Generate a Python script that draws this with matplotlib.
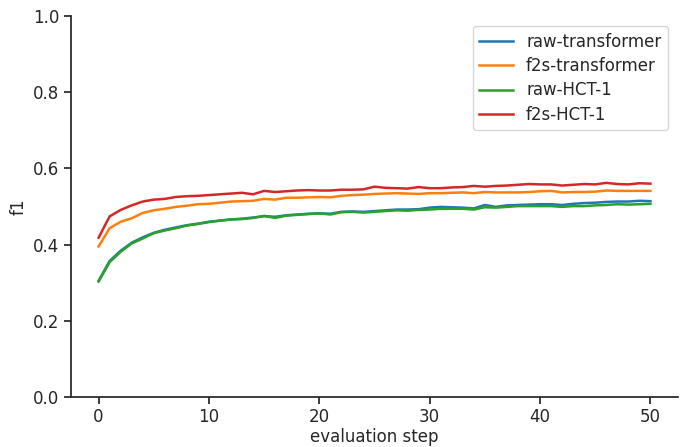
import numpy as np
import matplotlib
matplotlib.use("Agg")
import matplotlib.pyplot as plt

steps = np.arange(51)

raw_transformer = [
    0.305, 0.357, 0.384, 0.405, 0.419, 0.431, 0.439, 0.445, 0.451, 0.455,
    0.460, 0.463, 0.466, 0.468, 0.471, 0.475, 0.473, 0.477, 0.479, 0.481,
    0.482, 0.481, 0.486, 0.487, 0.486, 0.488, 0.490, 0.492, 0.492, 0.493,
    0.497, 0.499, 0.498, 0.497, 0.495, 0.504, 0.499, 0.503, 0.504, 0.505,
    0.506, 0.506, 0.504, 0.507, 0.509, 0.510, 0.512, 0.513, 0.513, 0.515,
    0.514]
f2s_transformer = [
    0.395, 0.443, 0.460, 0.469, 0.483, 0.490, 0.494, 0.499, 0.502, 0.506,
    0.507, 0.510, 0.513, 0.514, 0.515, 0.520, 0.518, 0.523, 0.523, 0.524,
    0.525, 0.524, 0.528, 0.530, 0.531, 0.533, 0.534, 0.535, 0.534, 0.533,
    0.535, 0.535, 0.536, 0.537, 0.535, 0.538, 0.537, 0.537, 0.537, 0.538,
    0.540, 0.541, 0.537, 0.538, 0.538, 0.539, 0.542, 0.541, 0.541, 0.541,
    0.541]
raw_hct1 = [
    0.303, 0.354, 0.381, 0.403, 0.416, 0.430, 0.437, 0.443, 0.450, 0.454,
    0.459, 0.463, 0.466, 0.467, 0.470, 0.475, 0.470, 0.476, 0.478, 0.480,
    0.482, 0.479, 0.485, 0.486, 0.484, 0.486, 0.488, 0.490, 0.489, 0.491,
    0.492, 0.494, 0.494, 0.494, 0.492, 0.498, 0.497, 0.499, 0.501, 0.501,
    0.501, 0.501, 0.499, 0.501, 0.501, 0.503, 0.504, 0.506, 0.505, 0.506,
    0.507]
f2s_hct1 = [
    0.418, 0.474, 0.491, 0.503, 0.513, 0.518, 0.520, 0.525, 0.527, 0.528,
    0.530, 0.532, 0.534, 0.536, 0.532, 0.541, 0.538, 0.540, 0.542, 0.543,
    0.542, 0.542, 0.544, 0.544, 0.545, 0.552, 0.549, 0.548, 0.547, 0.551,
    0.548, 0.548, 0.550, 0.551, 0.554, 0.552, 0.554, 0.555, 0.557, 0.559,
    0.558, 0.558, 0.555, 0.557, 0.559, 0.558, 0.562, 0.559, 0.558, 0.561,
    0.560]

series = [
    ("raw-transformer", raw_transformer, "#1f77b4"),
    ("f2s-transformer", f2s_transformer, "#ff7f0e"),
    ("raw-HCT-1", raw_hct1, "#2ca02c"),
    ("f2s-HCT-1", f2s_hct1, "#d62728"),
]

dark = "#262626"
plt.rcParams["font.family"] = "DejaVu Sans"
plt.rcParams["text.color"] = dark
plt.rcParams["axes.labelcolor"] = dark
plt.rcParams["xtick.color"] = dark
plt.rcParams["ytick.color"] = dark

fig = plt.figure(figsize=(6.84, 4.47), dpi=100)
ax = fig.add_axes([71 / 684, 1 - 397 / 447, (678 - 71) / 684, (397 - 16) / 447])

for name, vals, col in series:
    ax.plot(steps, vals, color=col, lw=1.8, label=name)

ax.set_ylim(0, 1.0)
ax.set_yticks([0.0, 0.2, 0.4, 0.6, 0.8, 1.0])
ax.set_xticks([0, 10, 20, 30, 40, 50])
ax.set_xlabel("evaluation step", fontsize=12, labelpad=1)
ax.set_ylabel("f1", fontsize=12)
ax.tick_params(labelsize=12, width=1.25, length=5)
ax.tick_params(axis="x", pad=3)
for s in ["top", "right"]:
    ax.spines[s].set_visible(False)
for s in ["left", "bottom"]:
    ax.spines[s].set_linewidth(1.25)
    ax.spines[s].set_color(dark)

ax.legend(loc="upper right", fontsize=12, handlelength=2.0, labelspacing=0.38,
          borderaxespad=0.6)

fig.savefig("out.png", dpi=100)
